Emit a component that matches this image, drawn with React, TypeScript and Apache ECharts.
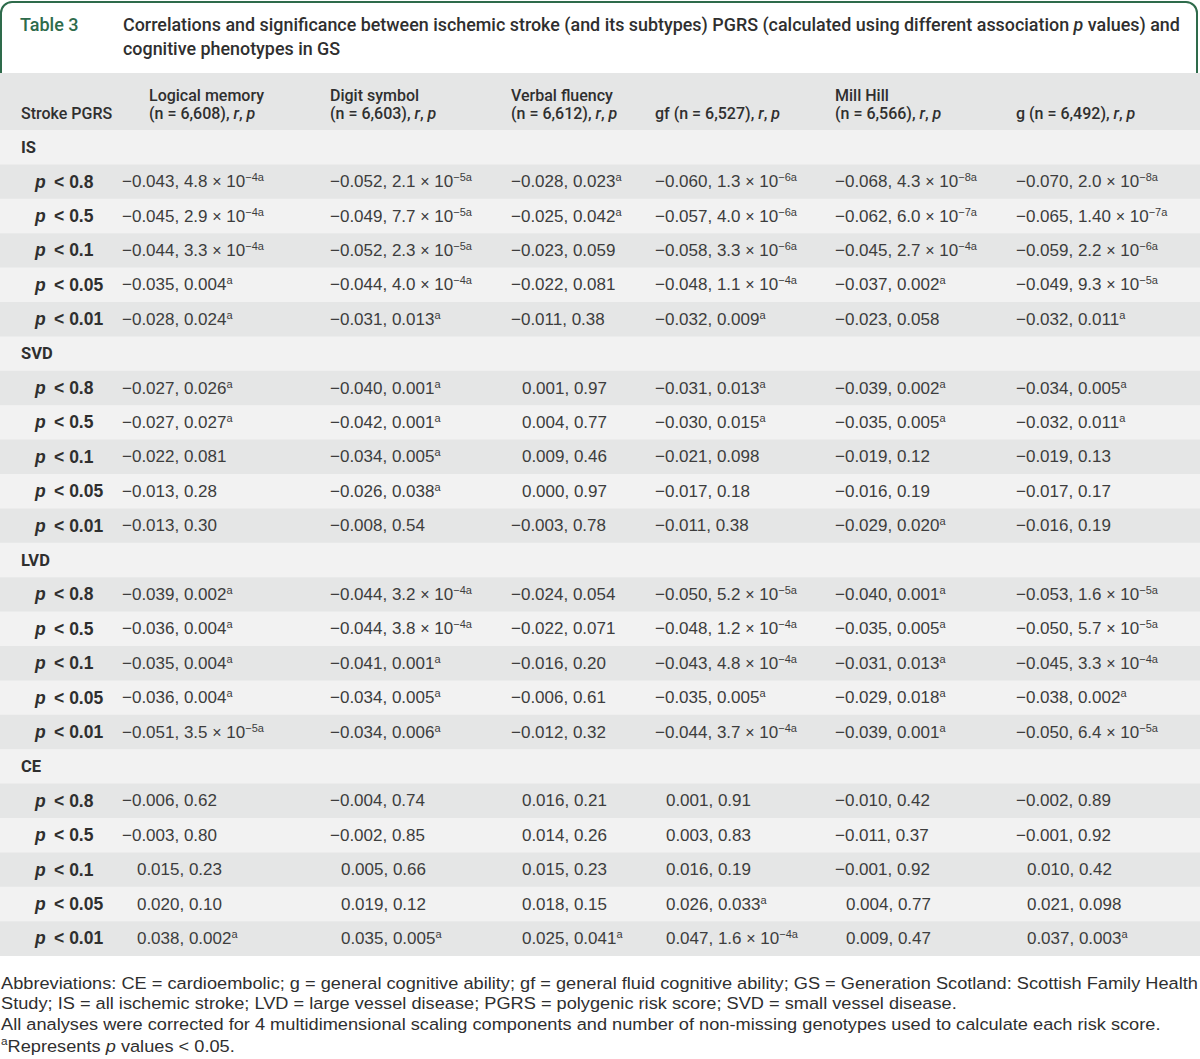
import React, { useEffect, useRef } from "react";
import * as echarts from "echarts";

// ---------------- data ----------------
const TABLE_NUMBER = "Table 3";
const TITLE_LINE1_BEFORE = "Correlations and significance between ischemic stroke (and its subtypes) PGRS (calculated using different association ";
const TITLE_LINE1_ITALIC = "p";
const TITLE_LINE1_AFTER = " values) and";
const TITLE_LINE2 = "cognitive phenotypes in GS";
const STUB_HEADER = "Stroke PGRS";
const COLUMN_NAMES = ["Logical memory", "Digit symbol", "Verbal fluency", "gf", "Mill Hill", "g"];
const COLUMN_N = ["6,608", "6,603", "6,612", "6,527", "6,566", "6,492"];
const COLUMN_NAME_INLINE = [false, false, false, true, false, true];
const GROUPS = ["IS", "SVD", "LVD", "CE"];
const THRESHOLDS = ["0.8", "0.5", "0.1", "0.05", "0.01"];

// "^" starts the superscript part
const IS_VALUES = [
  ["−0.043, 4.8 × 10^−4a", "−0.052, 2.1 × 10^−5a", "−0.028, 0.023^a", "−0.060, 1.3 × 10^−6a", "−0.068, 4.3 × 10^−8a", "−0.070, 2.0 × 10^−8a"],
  ["−0.045, 2.9 × 10^−4a", "−0.049, 7.7 × 10^−5a", "−0.025, 0.042^a", "−0.057, 4.0 × 10^−6a", "−0.062, 6.0 × 10^−7a", "−0.065, 1.40 × 10^−7a"],
  ["−0.044, 3.3 × 10^−4a", "−0.052, 2.3 × 10^−5a", "−0.023, 0.059", "−0.058, 3.3 × 10^−6a", "−0.045, 2.7 × 10^−4a", "−0.059, 2.2 × 10^−6a"],
  ["−0.035, 0.004^a", "−0.044, 4.0 × 10^−4a", "−0.022, 0.081", "−0.048, 1.1 × 10^−4a", "−0.037, 0.002^a", "−0.049, 9.3 × 10^−5a"],
  ["−0.028, 0.024^a", "−0.031, 0.013^a", "−0.011, 0.38", "−0.032, 0.009^a", "−0.023, 0.058", "−0.032, 0.011^a"],
];
const SVD_VALUES = [
  ["−0.027, 0.026^a", "−0.040, 0.001^a", "0.001, 0.97", "−0.031, 0.013^a", "−0.039, 0.002^a", "−0.034, 0.005^a"],
  ["−0.027, 0.027^a", "−0.042, 0.001^a", "0.004, 0.77", "−0.030, 0.015^a", "−0.035, 0.005^a", "−0.032, 0.011^a"],
  ["−0.022, 0.081", "−0.034, 0.005^a", "0.009, 0.46", "−0.021, 0.098", "−0.019, 0.12", "−0.019, 0.13"],
  ["−0.013, 0.28", "−0.026, 0.038^a", "0.000, 0.97", "−0.017, 0.18", "−0.016, 0.19", "−0.017, 0.17"],
  ["−0.013, 0.30", "−0.008, 0.54", "−0.003, 0.78", "−0.011, 0.38", "−0.029, 0.020^a", "−0.016, 0.19"],
];
const LVD_VALUES = [
  ["−0.039, 0.002^a", "−0.044, 3.2 × 10^−4a", "−0.024, 0.054", "−0.050, 5.2 × 10^−5a", "−0.040, 0.001^a", "−0.053, 1.6 × 10^−5a"],
  ["−0.036, 0.004^a", "−0.044, 3.8 × 10^−4a", "−0.022, 0.071", "−0.048, 1.2 × 10^−4a", "−0.035, 0.005^a", "−0.050, 5.7 × 10^−5a"],
  ["−0.035, 0.004^a", "−0.041, 0.001^a", "−0.016, 0.20", "−0.043, 4.8 × 10^−4a", "−0.031, 0.013^a", "−0.045, 3.3 × 10^−4a"],
  ["−0.036, 0.004^a", "−0.034, 0.005^a", "−0.006, 0.61", "−0.035, 0.005^a", "−0.029, 0.018^a", "−0.038, 0.002^a"],
  ["−0.051, 3.5 × 10^−5a", "−0.034, 0.006^a", "−0.012, 0.32", "−0.044, 3.7 × 10^−4a", "−0.039, 0.001^a", "−0.050, 6.4 × 10^−5a"],
];
const CE_VALUES = [
  ["−0.006, 0.62", "−0.004, 0.74", "0.016, 0.21", "0.001, 0.91", "−0.010, 0.42", "−0.002, 0.89"],
  ["−0.003, 0.80", "−0.002, 0.85", "0.014, 0.26", "0.003, 0.83", "−0.011, 0.37", "−0.001, 0.92"],
  ["0.015, 0.23", "0.005, 0.66", "0.015, 0.23", "0.016, 0.19", "−0.001, 0.92", "0.010, 0.42"],
  ["0.020, 0.10", "0.019, 0.12", "0.018, 0.15", "0.026, 0.033^a", "0.004, 0.77", "0.021, 0.098"],
  ["0.038, 0.002^a", "0.035, 0.005^a", "0.025, 0.041^a", "0.047, 1.6 × 10^−4a", "0.009, 0.47", "0.037, 0.003^a"],
];
const GROUP_VALUES = [IS_VALUES, SVD_VALUES, LVD_VALUES, CE_VALUES];

const FOOTNOTE_1 = "Abbreviations: CE = cardioembolic; g = general cognitive ability; gf = general fluid cognitive ability; GS = Generation Scotland: Scottish Family Health";
const FOOTNOTE_2 = "Study; IS = all ischemic stroke; LVD = large vessel disease; PGRS = polygenic risk score; SVD = small vessel disease.";
const FOOTNOTE_3 = "All analyses were corrected for 4 multidimensional scaling components and number of non-missing genotypes used to calculate each risk score.";
const FOOTNOTE_4_SUP = "a";
const FOOTNOTE_4_BEFORE = "Represents ";
const FOOTNOTE_4_ITALIC = "p";
const FOOTNOTE_4_AFTER = " values < 0.05.";

// ---------------- layout ----------------
const W = 1200;
const H = 1059;
const HEAD_X = [149, 330, 511, 655, 835, 1016];
const DATA_X = [122, 330, 511, 655, 835, 1016];
const POS_EXTRA = [5, 1, 1, 1, 1, 1];
const HEADER_TOP = 73;
const ROW_TOP = 130;
const ROW_H = 34.4;
const GREEN = "#2e6b4b";
const INK = "#2f2f2f";
const DATA_INK = "#3d3d3d";
const DARK_BAND = "#e5e6e6";
const LIGHT_BAND = "#f2f2f2";
const FONT_DATA = '"Liberation Sans", Arial, sans-serif';
const FONT_HEAD = 'Roboto, "Liberation Sans", sans-serif';
const DATA_SIZE = 17;
const THIN = "\u2009";

function measure(text: string, font: string): number {
  const c = document.createElement("canvas").getContext("2d");
  if (!c) return text.length * 7;
  c.font = font;
  return c.measureText(text).width;
}

function txt(x: number, y: number, text: string, rich: any, extra: any = {}) {
  return {
    type: "text",
    x,
    y,
    silent: true,
    style: {
      text,
      rich,
      align: "left",
      textAlign: "left",
      verticalAlign: "middle",
      textVerticalAlign: "middle",
      ...extra,
    },
  };
}

function buildGraphic() {
  const els: any[] = [];
  // title frame
  els.push({
    type: "rect",
    silent: true,
    shape: { x: 1, y: 2, width: W - 4, height: 110, r: [11, 11, 0, 0] },
    style: { fill: "#ffffff", stroke: GREEN, lineWidth: 2 },
  });
  // header band
  els.push({
    type: "rect",
    silent: true,
    shape: { x: 0, y: HEADER_TOP, width: W, height: ROW_TOP - HEADER_TOP },
    style: { fill: DARK_BAND },
  });
  const nRows = GROUPS.length * (THRESHOLDS.length + 1);
  for (let i = 0; i < nRows; i++) {
    els.push({
      type: "rect",
      silent: true,
      shape: { x: 0, y: ROW_TOP + i * ROW_H, width: W, height: ROW_H + 0.5 },
      style: { fill: i % 2 === 0 ? LIGHT_BAND : DARK_BAND },
    });
  }

  // title
  const titleRich = {
    b: { fontFamily: FONT_HEAD, fontSize: 17.9, fontWeight: 500, fill: INK, color: INK },
    bi: { fontFamily: FONT_HEAD, fontSize: 17.9, fontWeight: 500, fontStyle: "italic", fill: INK, color: INK },
  };
  els.push(txt(20, 24, `{g|${TABLE_NUMBER}}`, {
    g: { fontFamily: FONT_HEAD, fontSize: 18, fontWeight: 500, fill: GREEN, color: GREEN },
  }));
  els.push(txt(123, 24, `{b|${TITLE_LINE1_BEFORE}}{bi|${TITLE_LINE1_ITALIC}}{b|${TITLE_LINE1_AFTER}}`, titleRich));
  els.push(txt(123, 48, `{b|${TITLE_LINE2}}`, titleRich));

  // header
  const headRich = {
    t: { fontFamily: FONT_HEAD, fontSize: 16, fontWeight: 500, fill: INK, color: INK },
    i: { fontFamily: FONT_HEAD, fontSize: 16, fontWeight: 500, fontStyle: "italic", fill: INK, color: INK },
  };
  els.push(txt(21, 113, `{t|${STUB_HEADER}}`, headRich));
  COLUMN_NAMES.forEach((name, c) => {
    const x = HEAD_X[c];
    if (COLUMN_NAME_INLINE[c]) {
      els.push(txt(x, 113, `{t|${name} (n = ${COLUMN_N[c]}), }{i|r}{t|, }{i|p}`, headRich));
    } else {
      els.push(txt(x, 95, `{t|${name}}`, headRich));
      els.push(txt(x, 113, `{t|(n = ${COLUMN_N[c]}), }{i|r}{t|, }{i|p}`, headRich));
    }
  });

  // body
  const groupRich = {
    b: { fontFamily: FONT_HEAD, fontSize: 16.5, fontWeight: "bold", fill: INK, color: INK },
  };
  const labelRich = {
    b: { fontFamily: FONT_DATA, fontSize: 17.5, fontWeight: "bold", fill: INK, color: INK },
    bi: { fontFamily: FONT_DATA, fontSize: 17.5, fontWeight: "bold", fontStyle: "italic", fill: INK, color: INK },
  };
  const dataRich = {
    m: { fontFamily: FONT_DATA, fontSize: DATA_SIZE, lineHeight: 20, verticalAlign: "middle", fill: DATA_INK, color: DATA_INK },
    x: { fontFamily: FONT_DATA, fontSize: 16, lineHeight: 20, verticalAlign: "middle", fill: DATA_INK, color: DATA_INK },
    s: { fontFamily: FONT_DATA, fontSize: 11, lineHeight: 20, verticalAlign: "top", fill: DATA_INK, color: DATA_INK },
  };
  const minusW = measure("−", `${DATA_SIZE}px ${FONT_DATA}`);
  let row = 0;
  GROUPS.forEach((g, gi) => {
    const yc = ROW_TOP + (row + 0.5) * ROW_H;
    els.push(txt(21, yc, `{b|${g}}`, groupRich));
    row++;
    THRESHOLDS.forEach((t, ti) => {
      const y = ROW_TOP + (row + 0.5) * ROW_H;
      els.push(txt(35, y, `{bi|p}{b|${THIN} < ${t}}`, labelRich));
      GROUP_VALUES[gi][ti].forEach((v, c) => {
        const [main, sup] = v.split("^");
        const neg = main.startsWith("−");
        const x = DATA_X[c] + (neg ? 0 : minusW + POS_EXTRA[c]);
        const parts = main.split("×");
        let text = `{m|${parts[0]}}`;
        if (parts.length > 1) text += `{x|×}{m|${parts[1]}}`;
        if (sup) text += `{s|${sup}}`;
        els.push(txt(x, y, text, dataRich));
      });
      row++;
    });
  });

  // footnotes (condensed)
  const fnSize = 17;
  const fnFont = `${fnSize}px ${FONT_DATA}`;
  const fnScale = 1197 / measure(FOOTNOTE_1, fnFont);
  const fnRich = {
    t: { fontFamily: FONT_DATA, fontSize: fnSize, lineHeight: 20, verticalAlign: "middle", fill: INK, color: INK },
    i: { fontFamily: FONT_DATA, fontSize: fnSize, fontStyle: "italic", lineHeight: 20, verticalAlign: "middle", fill: INK, color: INK },
    s: { fontFamily: FONT_DATA, fontSize: 11, lineHeight: 20, verticalAlign: "top", fill: INK, color: INK },
  };
  const fnLines = [
    { y: 983, text: `{t|${FOOTNOTE_1}}` },
    { y: 1003.5, text: `{t|${FOOTNOTE_2}}` },
    { y: 1024.5, text: `{t|${FOOTNOTE_3}}` },
    { y: 1046, text: `{s|${FOOTNOTE_4_SUP}}{t|${FOOTNOTE_4_BEFORE}}{i|${FOOTNOTE_4_ITALIC}}{t|${FOOTNOTE_4_AFTER}}` },
  ];
  fnLines.forEach((l) => {
    const el: any = txt(1, l.y, l.text, fnRich);
    el.scaleX = fnScale;
    els.push(el);
  });
  return els;
}

export default function App() {
  const ref = useRef<HTMLDivElement>(null);
  useEffect(() => {
    if (!ref.current) return;
    const chart = echarts.init(ref.current, undefined, { renderer: "svg", width: W, height: H });
    chart.setOption({
      animation: false,
      backgroundColor: "#ffffff",
      graphic: { elements: buildGraphic() },
    });
    return () => chart.dispose();
  }, []);
  return (
    <div
      ref={ref}
      style={{ position: "absolute", left: 0, top: 0, width: W, height: H, background: "#fff" }}
    />
  );
}
